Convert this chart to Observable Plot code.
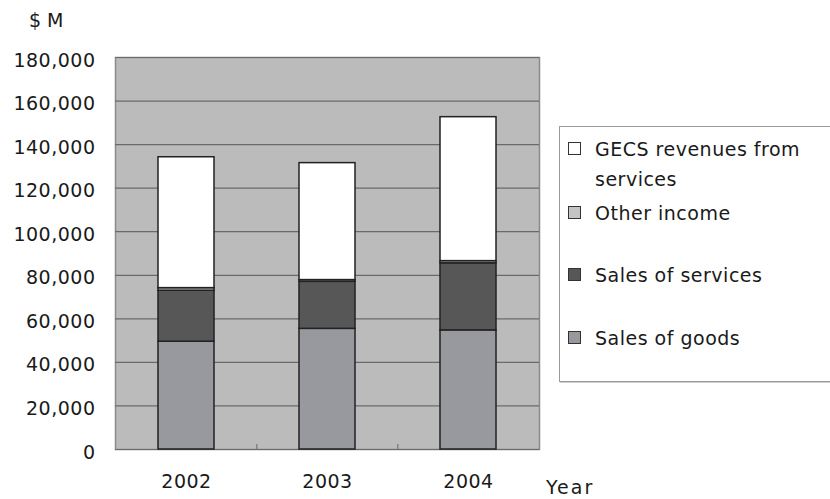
<!DOCTYPE html>
<html>
<head>
<meta charset="utf-8">
<script src="https://cdn.jsdelivr.net/npm/d3@7"></script>
<script src="https://cdn.jsdelivr.net/npm/@observablehq/plot@0.6"></script>
<style>
  html, body { margin: 0; padding: 0; background: #fff; }
  #chart { position: relative; width: 830px; height: 499px; overflow: hidden;
           font-family: "DejaVu Sans", sans-serif; color: #1a1a1a; }
  #chart svg { position: absolute; left: 0; top: 0; }
  .note { position: absolute; font-size: 19px; letter-spacing: 0.5px; line-height: 1; white-space: nowrap; }
  #legend { position: absolute; left: 559px; top: 126px; width: 300px; height: 254px;
            border: 1px solid #9a9a9a; background: #fff; box-shadow: 1px 1px 0 #cfcfcf; }
  .item { position: absolute; left: 8px; font-size: 19px; letter-spacing: 0.5px; line-height: 30px; }
  .swatch { position: absolute; left: 0; top: 8px; width: 11px; height: 11px; border: 1.5px solid #333; }
  .label { position: absolute; left: 27px; top: 0; white-space: nowrap; }
</style>
</head>
<body>
<div id="chart"></div>
<script>
// GE revenue components by year, $ millions
const years = ["2002", "2003", "2004"];
const seriesNames = ["Sales of goods", "Sales of services", "Other income", "GECS revenues from services"];
const salesOfGoods = [49500, 55400, 54700];
const salesOfServices = [23400, 21600, 30800];
const otherIncome = [1200, 800, 1000];
const gecsRevenues = [60100, 53700, 66100];
const yTicks = [0, 20000, 40000, 60000, 80000, 100000, 120000, 140000, 160000, 180000];
const seriesColors = ["#98999e", "#575757", "#c4c4c4", "#ffffff"];

const seriesValues = [salesOfGoods, salesOfServices, otherIncome, gecsRevenues];
const rows = [];
seriesNames.forEach((name, s) => {
  years.forEach((year, i) => rows.push({year, series: name, value: seriesValues[s][i]}));
});

const width = 830, height = 499;
const marginLeft = 115, marginRight = 291, marginTop = 57, marginBottom = 50;
const step = (width - marginLeft - marginRight) / years.length;

const plot = Plot.plot({
  width, height, marginLeft, marginRight, marginTop, marginBottom,
  style: {fontFamily: "DejaVu Sans, sans-serif", fontSize: "19px", color: "#1a1a1a", letterSpacing: "0.5px", background: "transparent"},
  x: {domain: years, paddingInner: 0.6, paddingOuter: 0.3, label: null},
  y: {domain: [0, 180000], label: null},
  color: {domain: seriesNames, range: seriesColors},
  marks: [
    Plot.frame({fill: "#bbbbbb", stroke: "#8a8a8a", strokeWidth: 1.5}),
    Plot.gridY(yTicks, {stroke: "#6a6a6a", strokeOpacity: 1, strokeWidth: 1.2}),
    Plot.barY(rows, {
      x: "year", y: "value", fill: "series",
      order: seriesNames,
      stroke: "#222", strokeWidth: 1.5
    }),
    // small ticks on the category boundaries along the base
    Plot.ruleX(years.slice(1), {dx: -step / 2, y1: 0, y2: 0, insetTop: -5, stroke: "#777", strokeWidth: 1.2}),
    Plot.axisY({ticks: yTicks, tickFormat: d3.format(","), tickSize: 0, tickPadding: 20, dy: 3, label: null}),
    Plot.axisX({tickSize: 0, tickPadding: 25, label: null})
  ]
});

const chart = document.getElementById("chart");
chart.appendChild(plot);

// axis titles
const unit = document.createElement("div");
unit.className = "note";
unit.textContent = "$M";
unit.style.left = "29px"; unit.style.top = "11px"; unit.style.letterSpacing = "6px";
chart.appendChild(unit);

const xTitle = document.createElement("div");
xTitle.className = "note";
xTitle.textContent = "Year";
xTitle.style.left = "546px"; xTitle.style.top = "478px"; xTitle.style.letterSpacing = "2px";
chart.appendChild(xTitle);

// legend, top entry is the top of the stack
const legend = document.createElement("div");
legend.id = "legend";
const legendTops = [196, 133, 71, 7];
const legendText = ["Sales of goods", "Sales of services", "Other income", "GECS revenues from<br>services"];
[3, 2, 1, 0].forEach(s => {
  const item = document.createElement("div");
  item.className = "item";
  item.style.top = legendTops[s] + "px";
  const sw = document.createElement("div");
  sw.className = "swatch";
  sw.style.background = seriesColors[s];
  const lab = document.createElement("div");
  lab.className = "label";
  lab.innerHTML = legendText[s];
  item.appendChild(sw);
  item.appendChild(lab);
  legend.appendChild(item);
});
chart.appendChild(legend);
</script>
</body>
</html>
